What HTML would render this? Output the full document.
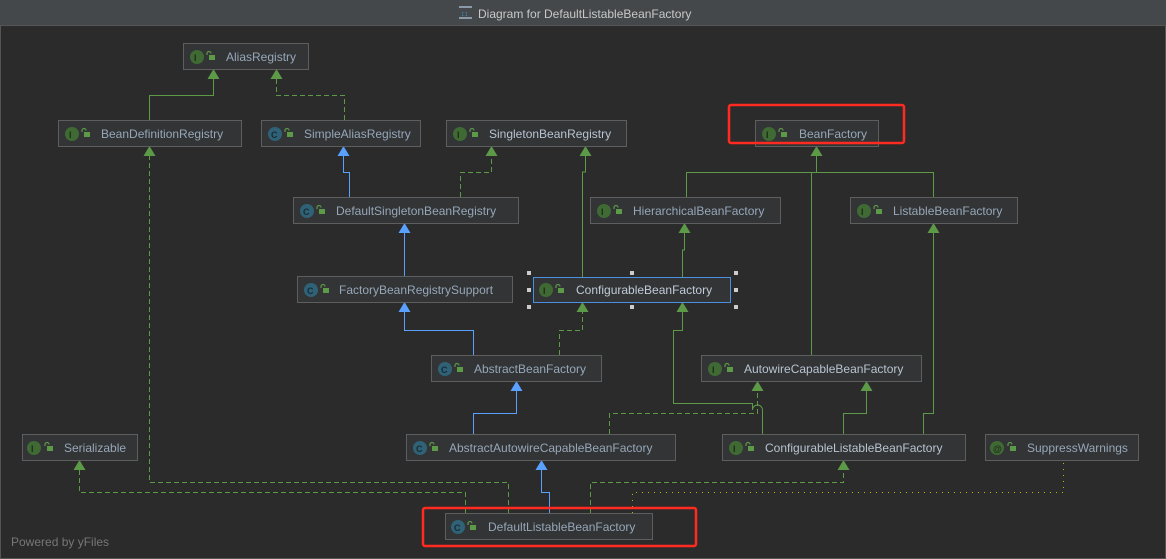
<!DOCTYPE html>
<html><head><meta charset="utf-8"><style>
html,body{margin:0;padding:0;background:#2b2b2b;}
svg{display:block}
text{font-family:"Liberation Sans","DejaVu Sans",sans-serif;}
</style></head><body>
<svg width="1166" height="559" viewBox="0 0 1166 559" xmlns="http://www.w3.org/2000/svg">
<rect x="0" y="0" width="1166" height="559" fill="#2b2b2b"/>
<rect x="0" y="0" width="1166" height="25" fill="#45484b"/>
<rect x="0.5" y="25.5" width="1165" height="533" fill="none" stroke="#555" />
<rect x="459" y="6" width="13" height="2" fill="#8a9aa8"/><rect x="459" y="17" width="13" height="2" fill="#8a9aa8"/>
<text x="461" y="16" font-size="7" fill="#3aa0d8">↕↕</text>
<text x="478" y="18" font-size="12" fill="#c8c8c8">Diagram for DefaultListableBeanFactory</text>
<text x="11" y="546" font-size="12" fill="#777">Powered by yFiles</text>

<g fill="none" stroke-width="1">
<!-- green solid -->
<g stroke="#5c9a48">
<path d="M149.5 120V95.5H213.5V75"/>
<path d="M582.5 277V172H585.5V152"/>
<path d="M682.5 277V250H684.5V229"/>
<path d="M686.5 197V172.5H933.5V197"/>
<path d="M816.5 172V152"/>
<path d="M811.5 355V172"/>
<path d="M762.5 434V410a5 5 0 0 0 -10 0V403.5H673.5V330.5H682.5V308"/>
<path d="M843.5 434V413.5H866.5V387"/>
<path d="M923.5 434V413.5H933.5V229"/>
</g>
<g stroke="#5c9a48" stroke-dasharray="5,3">
<path d="M344.5 120V95.5H276.5V75"/>
<path d="M460.5 197V172.5H491.5V152"/>
<path d="M559.5 355V330.5H582.5V308"/>
<path d="M609.5 434V413.5H757.5V387"/>
<path d="M590.5 513V482.5H843.5V466"/>
<path d="M508.5 513V482.5H149.5V152"/>
<path d="M465.5 513V492.5H79.5V466"/>
</g>
<g stroke="#5aa0ff">
<path d="M349.5 197V172.5H343.5V152"/>
<path d="M404.5 276V229"/>
<path d="M473.5 355V330.5H404.5V308"/>
<path d="M473.5 434V413.5H516.5V387"/>
<path d="M549.5 513V492.5H541.5V466"/>
</g>
<path d="M632.5 513V492.5H1063.5V462" stroke="#b8b800" stroke-dasharray="1,5"/>
</g>
<!-- arrowheads -->
<g fill="#5c9a48">
<path d="M213.5 69l-6 10h12z"/><path d="M276.5 69l-6 10h12z"/>
<path d="M149.5 146l-6 10h12z"/><path d="M491.5 146l-6 10h12z"/>
<path d="M585.5 146l-6 10h12z"/><path d="M816.5 146l-6 10h12z"/>
<path d="M684.5 223l-6 10h12z"/><path d="M933.5 223l-6 10h12z"/>
<path d="M582.5 302l-6 10h12z"/><path d="M682.5 302l-6 10h12z"/>
<path d="M757.5 381l-6 10h12z"/><path d="M866.5 381l-6 10h12z"/>
<path d="M79.5 460l-6 10h12z"/><path d="M843.5 460l-6 10h12z"/>
</g>
<g fill="#5aa0ff">
<path d="M343.5 146l-6 10h12z"/><path d="M404.5 223l-6 10h12z"/>
<path d="M404.5 302l-6 10h12z"/><path d="M516.5 381l-6 10h12z"/>
<path d="M541.5 460l-6 10h12z"/>
</g>

<defs>
<g id="lk"><rect x="0" y="3" width="6" height="5" fill="#5c9a48"/><path d="M-2 3V1.5a2 2 0 0 1 4 0" stroke="#5c9a48" fill="none" stroke-width="1.2"/></g>
</defs>

<g font-size="12">
<!-- node helper: rect, icon, lock, text -->
<g id="nodes">
</g>
</g>
<g font-size="12" fill="#97a7b8">
<!-- AliasRegistry -->
<rect x="183.5" y="43.5" width="125" height="26" fill="#323436" stroke="#5e5e5e"/>
<circle cx="197" cy="57" r="7" fill="#3f6a34"/><text x="194" y="61" font-size="9" fill="#1e2a1a" font-weight="bold">I</text><use href="#lk" x="209" y="52"/>
<text x="226" y="61">AliasRegistry</text>

<rect x="58.5" y="120.5" width="183" height="26" fill="#323436" stroke="#5e5e5e"/>
<circle cx="72" cy="134" r="7" fill="#3f6a34"/><text x="69" y="138" font-size="9" fill="#1e2a1a" font-weight="bold">I</text><use href="#lk" x="84" y="129"/>
<text x="101" y="138">BeanDefinitionRegistry</text>

<rect x="261.5" y="120.5" width="159" height="26" fill="#323436" stroke="#5e5e5e"/>
<circle cx="275" cy="134" r="7" fill="#2f6277"/><text x="271" y="138" font-size="9" fill="#1a2a33" font-weight="bold">C</text><use href="#lk" x="287" y="129"/>
<text x="304" y="138">SimpleAliasRegistry</text>

<rect x="446.5" y="120.5" width="180" height="26" fill="#323436" stroke="#5e5e5e"/>
<circle cx="460" cy="134" r="7" fill="#3f6a34"/><text x="457" y="138" font-size="9" fill="#1e2a1a" font-weight="bold">I</text><use href="#lk" x="472" y="129"/>
<text x="489" y="138" fill="#b8c4d0">SingletonBeanRegistry</text>

<rect x="755.5" y="120.5" width="123" height="26" fill="#323436" stroke="#5e5e5e"/>
<circle cx="769" cy="134" r="7" fill="#3f6a34"/><text x="766" y="138" font-size="9" fill="#1e2a1a" font-weight="bold">I</text><use href="#lk" x="781" y="129"/>
<text x="799" y="138">BeanFactory</text>

<rect x="293.5" y="197.5" width="225" height="26" fill="#323436" stroke="#5e5e5e"/>
<circle cx="307" cy="211" r="7" fill="#2f6277"/><text x="303" y="215" font-size="9" fill="#1a2a33" font-weight="bold">C</text><use href="#lk" x="319" y="206"/>
<text x="336" y="215">DefaultSingletonBeanRegistry</text>

<rect x="590.5" y="197.5" width="190" height="26" fill="#323436" stroke="#5e5e5e"/>
<circle cx="604" cy="211" r="7" fill="#3f6a34"/><text x="601" y="215" font-size="9" fill="#1e2a1a" font-weight="bold">I</text><use href="#lk" x="616" y="206"/>
<text x="633" y="215">HierarchicalBeanFactory</text>

<rect x="850.5" y="197.5" width="167" height="26" fill="#323436" stroke="#5e5e5e"/>
<circle cx="864" cy="211" r="7" fill="#3f6a34"/><text x="861" y="215" font-size="9" fill="#1e2a1a" font-weight="bold">I</text><use href="#lk" x="876" y="206"/>
<text x="893" y="215">ListableBeanFactory</text>

<rect x="297.5" y="276.5" width="215" height="26" fill="#323436" stroke="#5e5e5e"/>
<circle cx="311" cy="290" r="7" fill="#2f6277"/><text x="307" y="294" font-size="9" fill="#1a2a33" font-weight="bold">C</text><use href="#lk" x="323" y="285"/>
<text x="339" y="294">FactoryBeanRegistrySupport</text>

<rect x="533.5" y="277.5" width="197" height="25" fill="#323436" stroke="#4a8fe0"/>
<circle cx="546" cy="290" r="7" fill="#3f6a34"/><text x="543" y="294" font-size="9" fill="#1e2a1a" font-weight="bold">I</text><use href="#lk" x="558" y="285"/>
<text x="576" y="294" fill="#c0ccd8">ConfigurableBeanFactory</text>
<g fill="#cccccc"><rect x="527" y="271" width="4" height="4"/><rect x="630" y="271" width="4" height="4"/><rect x="734" y="271" width="4" height="4"/><rect x="527" y="288" width="4" height="4"/><rect x="734" y="288" width="4" height="4"/><rect x="527" y="305" width="4" height="4"/><rect x="630" y="305" width="4" height="4"/><rect x="734" y="305" width="4" height="4"/></g>

<rect x="431.5" y="355.5" width="170" height="26" fill="#323436" stroke="#5e5e5e"/>
<circle cx="445" cy="369" r="7" fill="#2f6277"/><text x="441" y="373" font-size="9" fill="#1a2a33" font-weight="bold">C</text><use href="#lk" x="457" y="364"/>
<text x="474" y="373">AbstractBeanFactory</text>

<rect x="701.5" y="355.5" width="220" height="26" fill="#323436" stroke="#5e5e5e"/>
<circle cx="715" cy="369" r="7" fill="#3f6a34"/><text x="712" y="373" font-size="9" fill="#1e2a1a" font-weight="bold">I</text><use href="#lk" x="727" y="364"/>
<text x="744" y="373" fill="#b8c4d0">AutowireCapableBeanFactory</text>

<rect x="22.5" y="434.5" width="115" height="26" fill="#323436" stroke="#5e5e5e"/>
<circle cx="34" cy="448" r="7" fill="#3f6a34"/><text x="31" y="452" font-size="9" fill="#1e2a1a" font-weight="bold">I</text><use href="#lk" x="47" y="443"/>
<text x="64" y="452">Serializable</text>

<rect x="406.5" y="434.5" width="269" height="26" fill="#323436" stroke="#5e5e5e"/>
<circle cx="420" cy="448" r="7" fill="#2f6277"/><text x="416" y="452" font-size="9" fill="#1a2a33" font-weight="bold">C</text><use href="#lk" x="432" y="443"/>
<text x="449" y="452">AbstractAutowireCapableBeanFactory</text>

<rect x="722.5" y="434.5" width="243" height="26" fill="#323436" stroke="#5e5e5e"/>
<circle cx="736" cy="448" r="7" fill="#3f6a34"/><text x="733" y="452" font-size="9" fill="#1e2a1a" font-weight="bold">I</text><use href="#lk" x="748" y="443"/>
<text x="765" y="452" fill="#b8c4d0">ConfigurableListableBeanFactory</text>

<rect x="985.5" y="434.5" width="153" height="26" fill="#323436" stroke="#5e5e5e"/>
<circle cx="997" cy="448" r="7" fill="#3f6a34"/><text x="993" y="452" font-size="9" fill="#1e2a1a" font-weight="bold">@</text><use href="#lk" x="1010" y="443"/>
<text x="1027" y="452">SuppressWarnings</text>

<rect x="445.5" y="513.5" width="207" height="26" fill="#323436" stroke="#5e5e5e"/>
<circle cx="458" cy="527" r="7" fill="#2f6277"/><text x="454" y="531" font-size="9" fill="#1a2a33" font-weight="bold">C</text><use href="#lk" x="470" y="522"/>
<text x="488" y="531">DefaultListableBeanFactory</text>
</g>
<rect x="729" y="105" width="175" height="38" rx="2" fill="none" stroke="#ff2a20" stroke-width="2.5"/>
<rect x="423" y="508" width="273" height="38" rx="2" fill="none" stroke="#ff2a20" stroke-width="2.5"/>
</svg>
</body></html>
